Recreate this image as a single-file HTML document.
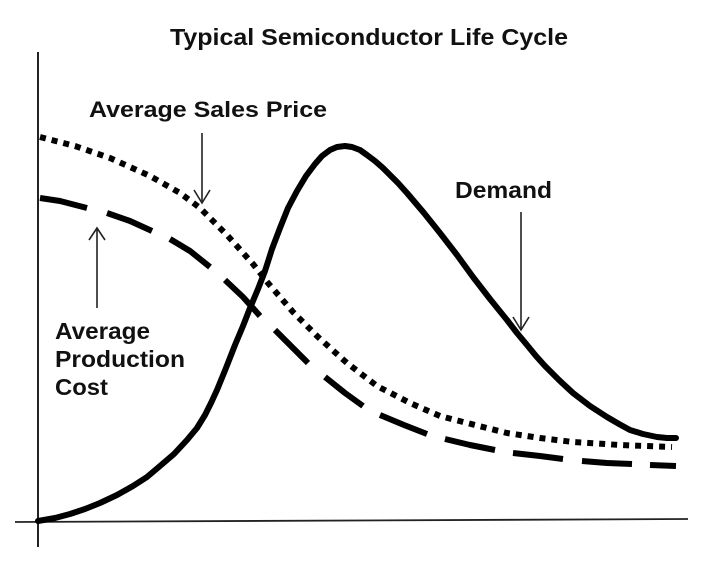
<!DOCTYPE html>
<html>
<head>
<meta charset="utf-8">
<style>
  html, body { margin: 0; padding: 0; background: #ffffff; }
  body { width: 706px; height: 572px; overflow: hidden; }
  svg { display: block; }
  text { font-family: "Liberation Sans", Arial, sans-serif; font-weight: bold; fill: #111; }
</style>
</head>
<body>
<svg width="706" height="572" viewBox="0 0 706 572" xmlns="http://www.w3.org/2000/svg">
  <rect width="706" height="572" fill="#ffffff"/>

  <!-- Title -->
  <text x="170" y="45" font-size="23" textLength="398" lengthAdjust="spacingAndGlyphs">Typical Semiconductor Life Cycle</text>

  <!-- Axes -->
  <line x1="38" y1="52" x2="38" y2="547" stroke="#222" stroke-width="2"/>
  <line x1="15" y1="522" x2="688" y2="519" stroke="#222" stroke-width="1.8"/>

  <!-- Average Sales Price (dotted) -->
  <polyline fill="none" stroke="#000" stroke-width="6" stroke-dasharray="6 6" stroke-linejoin="round"
    points="40,137 75,146 110,158 150,176 180,193 200,208 227,235 253,264 268,283 293,312 318,337 347,363 377,386 410,403 440,416 475,425 507,433 540,438 573,442 620,445 672,447"/>

  <!-- Average Production Cost (dashed, explicit dashes) -->
  <g fill="none" stroke="#000" stroke-width="6" stroke-linejoin="round">
    <polyline points="40,198 60,201 87,208"/>
    <polyline points="107,213 130,221 152,231"/>
    <polyline points="170,239 190,251 210,267"/>
    <polyline points="225,280 243,297 260,316"/>
    <polyline points="275,330 292,347 308,363"/>
    <polyline points="325,377 345,393 363,406"/>
    <polyline points="380,415 404,425 427,434"/>
    <polyline points="445,439 470,445 495,450"/>
    <polyline points="513,453 540,456 563,459"/>
    <polyline points="582,461 607,463 632,464"/>
    <polyline points="650,465 676,466"/>
  </g>

  <!-- Demand (solid) -->
  <polyline fill="none" stroke="#000" stroke-width="6" stroke-linejoin="round" stroke-linecap="round"
    points="38,521 55,518 70,514 85,509 100,503 117,495 133,486 147,477 160,466 174,454 187,440 197,428 205,415 211,403 217,390 226,368 235,345 243,326 250,308 258,289 265,271 272,249 280,228 288,208 297,191 306,176 315,164 322,156 330,150 337,147 345,146 352,147 360,150 367,155 375,161 383,168 390,175 398,183 407,193 424,213 440,233 457,255 473,277 490,299 507,320 517,333 527,345 536,356 545,366 559,380 573,393 590,406 607,417 619,424 630,430 643,434 657,437 667,438 676,438"/>

  <!-- Arrows -->
  <g fill="none" stroke="#222" stroke-width="1.6">
    <line x1="202" y1="133" x2="202" y2="202"/>
    <polyline points="194,190 202,203 210,190"/>
    <line x1="97" y1="228" x2="97" y2="308"/>
    <polyline points="89,240 97,228 105,240"/>
    <line x1="521" y1="212" x2="521" y2="330"/>
    <polyline points="513,317 521,330 529,317"/>
  </g>

  <!-- Labels -->
  <text x="89" y="117" font-size="22" textLength="238" lengthAdjust="spacingAndGlyphs">Average Sales Price</text>
  <text x="455" y="198" font-size="23" textLength="97" lengthAdjust="spacingAndGlyphs">Demand</text>
  <text x="55" y="339" font-size="23" textLength="95" lengthAdjust="spacingAndGlyphs">Average</text>
  <text x="55" y="367" font-size="23" textLength="130" lengthAdjust="spacingAndGlyphs">Production</text>
  <text x="55" y="395" font-size="23" textLength="53" lengthAdjust="spacingAndGlyphs">Cost</text>
</svg>
</body>
</html>
